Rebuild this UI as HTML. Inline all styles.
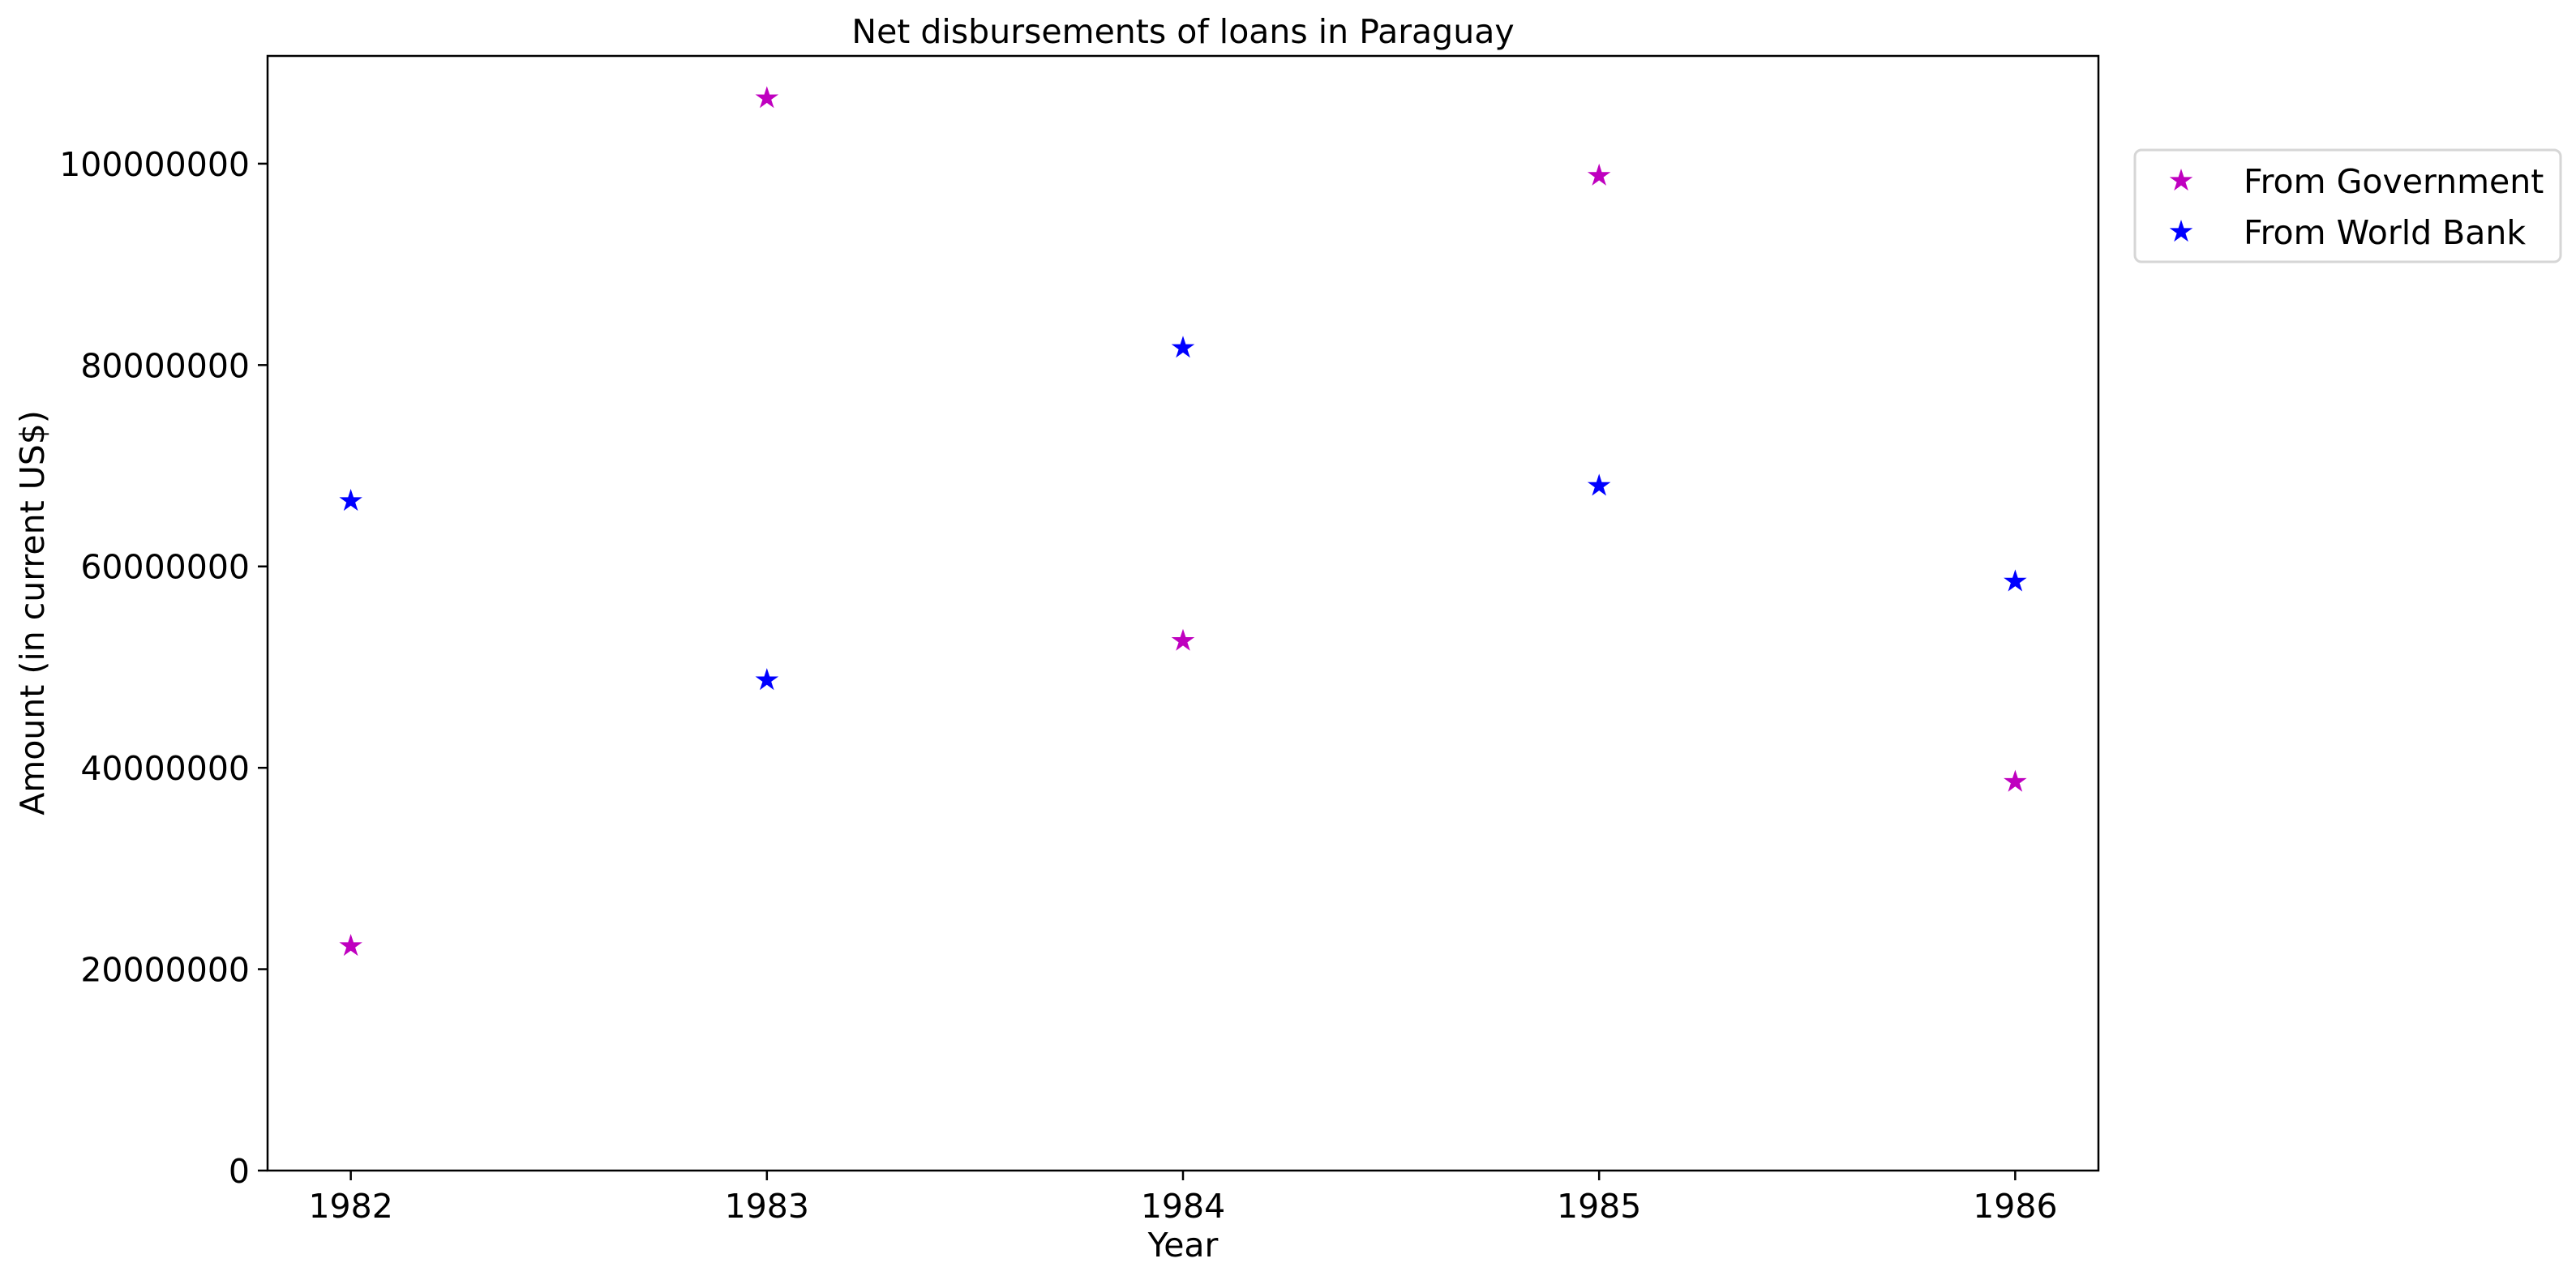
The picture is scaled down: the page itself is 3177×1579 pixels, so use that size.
<!DOCTYPE html>
<html><head><meta charset="utf-8"><style>
html,body{margin:0;padding:0;background:#fff;}
svg{display:block;font-family:"DejaVu Sans","Liberation Sans",sans-serif;}
</style></head><body>
<svg id="chart" width="3177" height="1579" viewBox="0 0 3177 1579" xmlns="http://www.w3.org/2000/svg">
<rect width="3177" height="1579" fill="#fff"/>
<text x="1459" y="53" font-size="41" text-anchor="middle">Net disbursements of loans in Paraguay</text>
<g id="plot"></g>
<text x="1459" y="1550" font-size="41" text-anchor="middle">Year</text>
<text transform="translate(54,756) rotate(-90)" font-size="41" text-anchor="middle">Amount (in current US$)</text>
<g>
<rect x="2633" y="185" width="525" height="138" rx="8" fill="#fff" stroke="#d6d6d6" stroke-width="3"/>
<g id="legend-items"></g>
</g>
</svg>
<script>
const years = [1982, 1983, 1984, 1985, 1986];
const govValues = [22300000, 106500000, 52600000, 98800000, 38600000];
const wbValues = [66500000, 48700000, 81700000, 68000000, 58500000];
const yTicks = [0, 20000000, 40000000, 60000000, 80000000, 100000000];
const seriesNames = ["From Government", "From World Bank"];

const NS = "http://www.w3.org/2000/svg";
const L = 330, R = 2588, T = 69, B = 1444;
const xMin = 1981.8, xMax = 1986.2, yMin = 0, yMax = 110700000;
function xs(v){ return L + (v - xMin) / (xMax - xMin) * (R - L); }
function ys(v){ return B - (v - yMin) / (yMax - yMin) * (B - T); }
function mk(tag, attrs){ const e = document.createElementNS(NS, tag); for (const k in attrs) e.setAttribute(k, attrs[k]); return e; }
function starPath(cx, cy, r){
  let d = "";
  for (let i = 0; i < 10; i++){
    const rr = i % 2 === 0 ? r : r * 0.38;
    const a = -Math.PI / 2 + i * Math.PI / 5;
    d += (i ? "L" : "M") + (cx + rr * Math.cos(a)).toFixed(1) + "," + (cy + rr * Math.sin(a)).toFixed(1);
  }
  return d + "Z";
}
const plot = document.getElementById("plot");
const frame = mk("rect", {x: L, y: T, width: R - L, height: B - T, fill: "none", stroke: "#000", "stroke-width": 2.5});


plot.appendChild(frame);
yTicks.forEach(function(v){
  const y = ys(v);
  const t = mk("line", {x1: L - 12, x2: L, y1: y, y2: y, stroke: "#000", "stroke-width": 2.5});
  
  
  plot.appendChild(t);
  const lab = mk("text", {x: L - 22, y: y + 15, "font-size": 41, "text-anchor": "end"});
  
  
  lab.textContent = String(v);
  plot.appendChild(lab);
});
years.forEach(function(v){
  const x = xs(v);
  const t = mk("line", {x1: x, x2: x, y1: B, y2: B + 12, stroke: "#000", "stroke-width": 2.5});
  
  
  plot.appendChild(t);
  const lab = mk("text", {x: x, y: B + 58, "font-size": 41, "text-anchor": "middle"});
  
  
  lab.textContent = String(v);
  plot.appendChild(lab);
});
years.forEach(function(yr, i){
  const p = mk("path", {d: starPath(xs(yr), ys(govValues[i]), 15), fill: "#bf00bf"});
  
  
  plot.appendChild(p);
});
years.forEach(function(yr, i){
  const p = mk("path", {d: starPath(xs(yr), ys(wbValues[i]), 15), fill: "#0000ff"});
  
  
  plot.appendChild(p);
});
const li = document.getElementById("legend-items");
const colors = ["#bf00bf", "#0000ff"];
seriesNames.forEach(function(n, i){
  const cy = 223 + i * 63;
  const s = mk("path", {d: starPath(2690, cy, 15), fill: colors[i]});
  
  
  li.appendChild(s);
  const tx = mk("text", {x: 2767, y: cy + 15, "font-size": 41});
  
  
  tx.textContent = n;
  li.appendChild(tx);
});
</script>
</body></html>
